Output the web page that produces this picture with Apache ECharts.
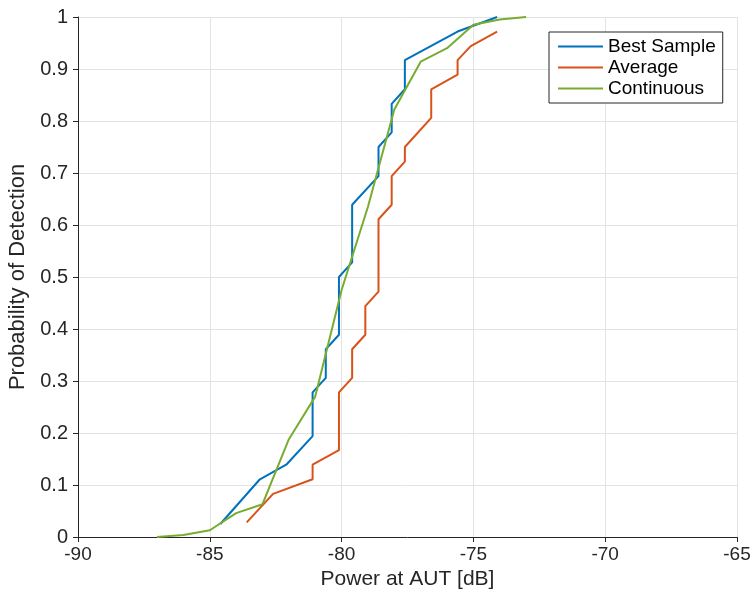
<!DOCTYPE html>
<html>
<head>
<meta charset="utf-8">
<script src="https://cdn.jsdelivr.net/npm/echarts@6/dist/echarts.min.js"></script>
<style>
  html, body { margin: 0; padding: 0; background: #fff; }
  #chart { width: 751px; height: 592px; }
</style>
</head>
<body>
<div id="chart"></div>
<script>
// Detection probability versus power at the AUT, three detector variants
const seriesNames = ['Best Sample', 'Average', 'Continuous'];
const seriesColors = ['#0072BD', '#D95319', '#77AC30'];

const bestSample = [
  [-84.6, 0.025], [-83.1, 0.111], [-82.1, 0.139], [-81.1, 0.194], [-81.1, 0.278],
  [-80.6, 0.306], [-80.6, 0.361], [-80.1, 0.389], [-80.1, 0.500], [-79.6, 0.528],
  [-79.6, 0.639], [-78.6, 0.694], [-78.6, 0.750], [-78.1, 0.778], [-78.1, 0.833],
  [-77.6, 0.861], [-77.6, 0.917], [-75.6, 0.972], [-74.1, 1.000]
];
const average = [
  [-83.6, 0.028], [-82.6, 0.083], [-81.1, 0.111], [-81.1, 0.139], [-80.1, 0.167],
  [-80.1, 0.278], [-79.6, 0.306], [-79.6, 0.361], [-79.1, 0.389], [-79.1, 0.444],
  [-78.6, 0.472], [-78.6, 0.611], [-78.1, 0.639], [-78.1, 0.694], [-77.6, 0.722],
  [-77.6, 0.750], [-76.6, 0.806], [-76.6, 0.861], [-75.6, 0.889], [-75.6, 0.917],
  [-75.1, 0.944], [-74.1, 0.972]
];
const continuous = [
  [-87, 0.000], [-86, 0.004], [-85, 0.013], [-84, 0.046], [-83, 0.063],
  [-82, 0.188], [-81, 0.270], [-80, 0.475], [-79, 0.635], [-78, 0.822],
  [-77, 0.914], [-76, 0.940], [-75, 0.985], [-74, 0.995], [-73, 1.000]
];
const seriesData = [bestSample, average, continuous];

const xTicks = { min: -90, max: -65, step: 5 };
const yTicks = { min: 0, max: 1, step: 0.1 };

const fontFamily = '"Liberation Sans", Arial, Helvetica, sans-serif';
const chart = echarts.init(document.getElementById('chart'), null, { renderer: 'canvas' });

chart.setOption({
  animation: false,
  backgroundColor: '#ffffff',
  grid: {
    left: 78, right: 14, top: 17, bottom: 55,
    containLabel: false, outerBoundsMode: 'none'
  },
  legend: {
    left: 549, top: 32,
    orient: 'vertical',
    data: seriesNames,
    icon: 'rect',
    itemWidth: 45,
    itemHeight: 2,
    itemGap: 0,
    padding: [4, 7, 4, 9],
    backgroundColor: '#ffffff',
    borderColor: '#262626',
    borderWidth: 1,
    borderRadius: 0,
    textStyle: { fontFamily, fontSize: 19, lineHeight: 21, color: '#000' }
  },
  xAxis: {
    type: 'value',
    min: xTicks.min, max: xTicks.max, interval: xTicks.step,
    name: 'Power at AUT [dB]',
    nameLocation: 'middle', nameGap: 31,
    nameTextStyle: { fontFamily, fontSize: 21, color: '#262626' },
    axisLine: { show: true, onZero: false, lineStyle: { color: '#262626', width: 1 } },
    axisTick: { show: true, inside: false, length: 5, lineStyle: { color: '#262626' } },
    axisLabel: { fontFamily, fontSize: 19, color: '#262626', margin: 8 },
    splitLine: { show: true, lineStyle: { color: '#e3e3e3', width: 1 } }
  },
  yAxis: {
    type: 'value',
    min: yTicks.min, max: yTicks.max, interval: yTicks.step,
    name: 'Probability of Detection',
    nameLocation: 'middle', nameGap: 43,
    nameTextStyle: { fontFamily, fontSize: 22, color: '#262626' },
    axisLine: { show: true, onZero: false, lineStyle: { color: '#262626', width: 1 } },
    axisTick: { show: true, inside: false, length: 5, lineStyle: { color: '#262626' } },
    axisLabel: {
      fontFamily, fontSize: 20, color: '#262626', margin: 10,
      formatter: v => (Math.round(v * 10) / 10).toString()
    },
    splitLine: { show: true, lineStyle: { color: '#e3e3e3', width: 1 } }
  },
  series: seriesNames.map((name, i) => ({
    name,
    type: 'line',
    data: seriesData[i],
    showSymbol: false,
    symbol: 'none',
    clip: false,
    lineStyle: { color: seriesColors[i], width: 2 },
    itemStyle: { color: seriesColors[i] },
    z: 3 + i
  }))
});
</script>
</body>
</html>
